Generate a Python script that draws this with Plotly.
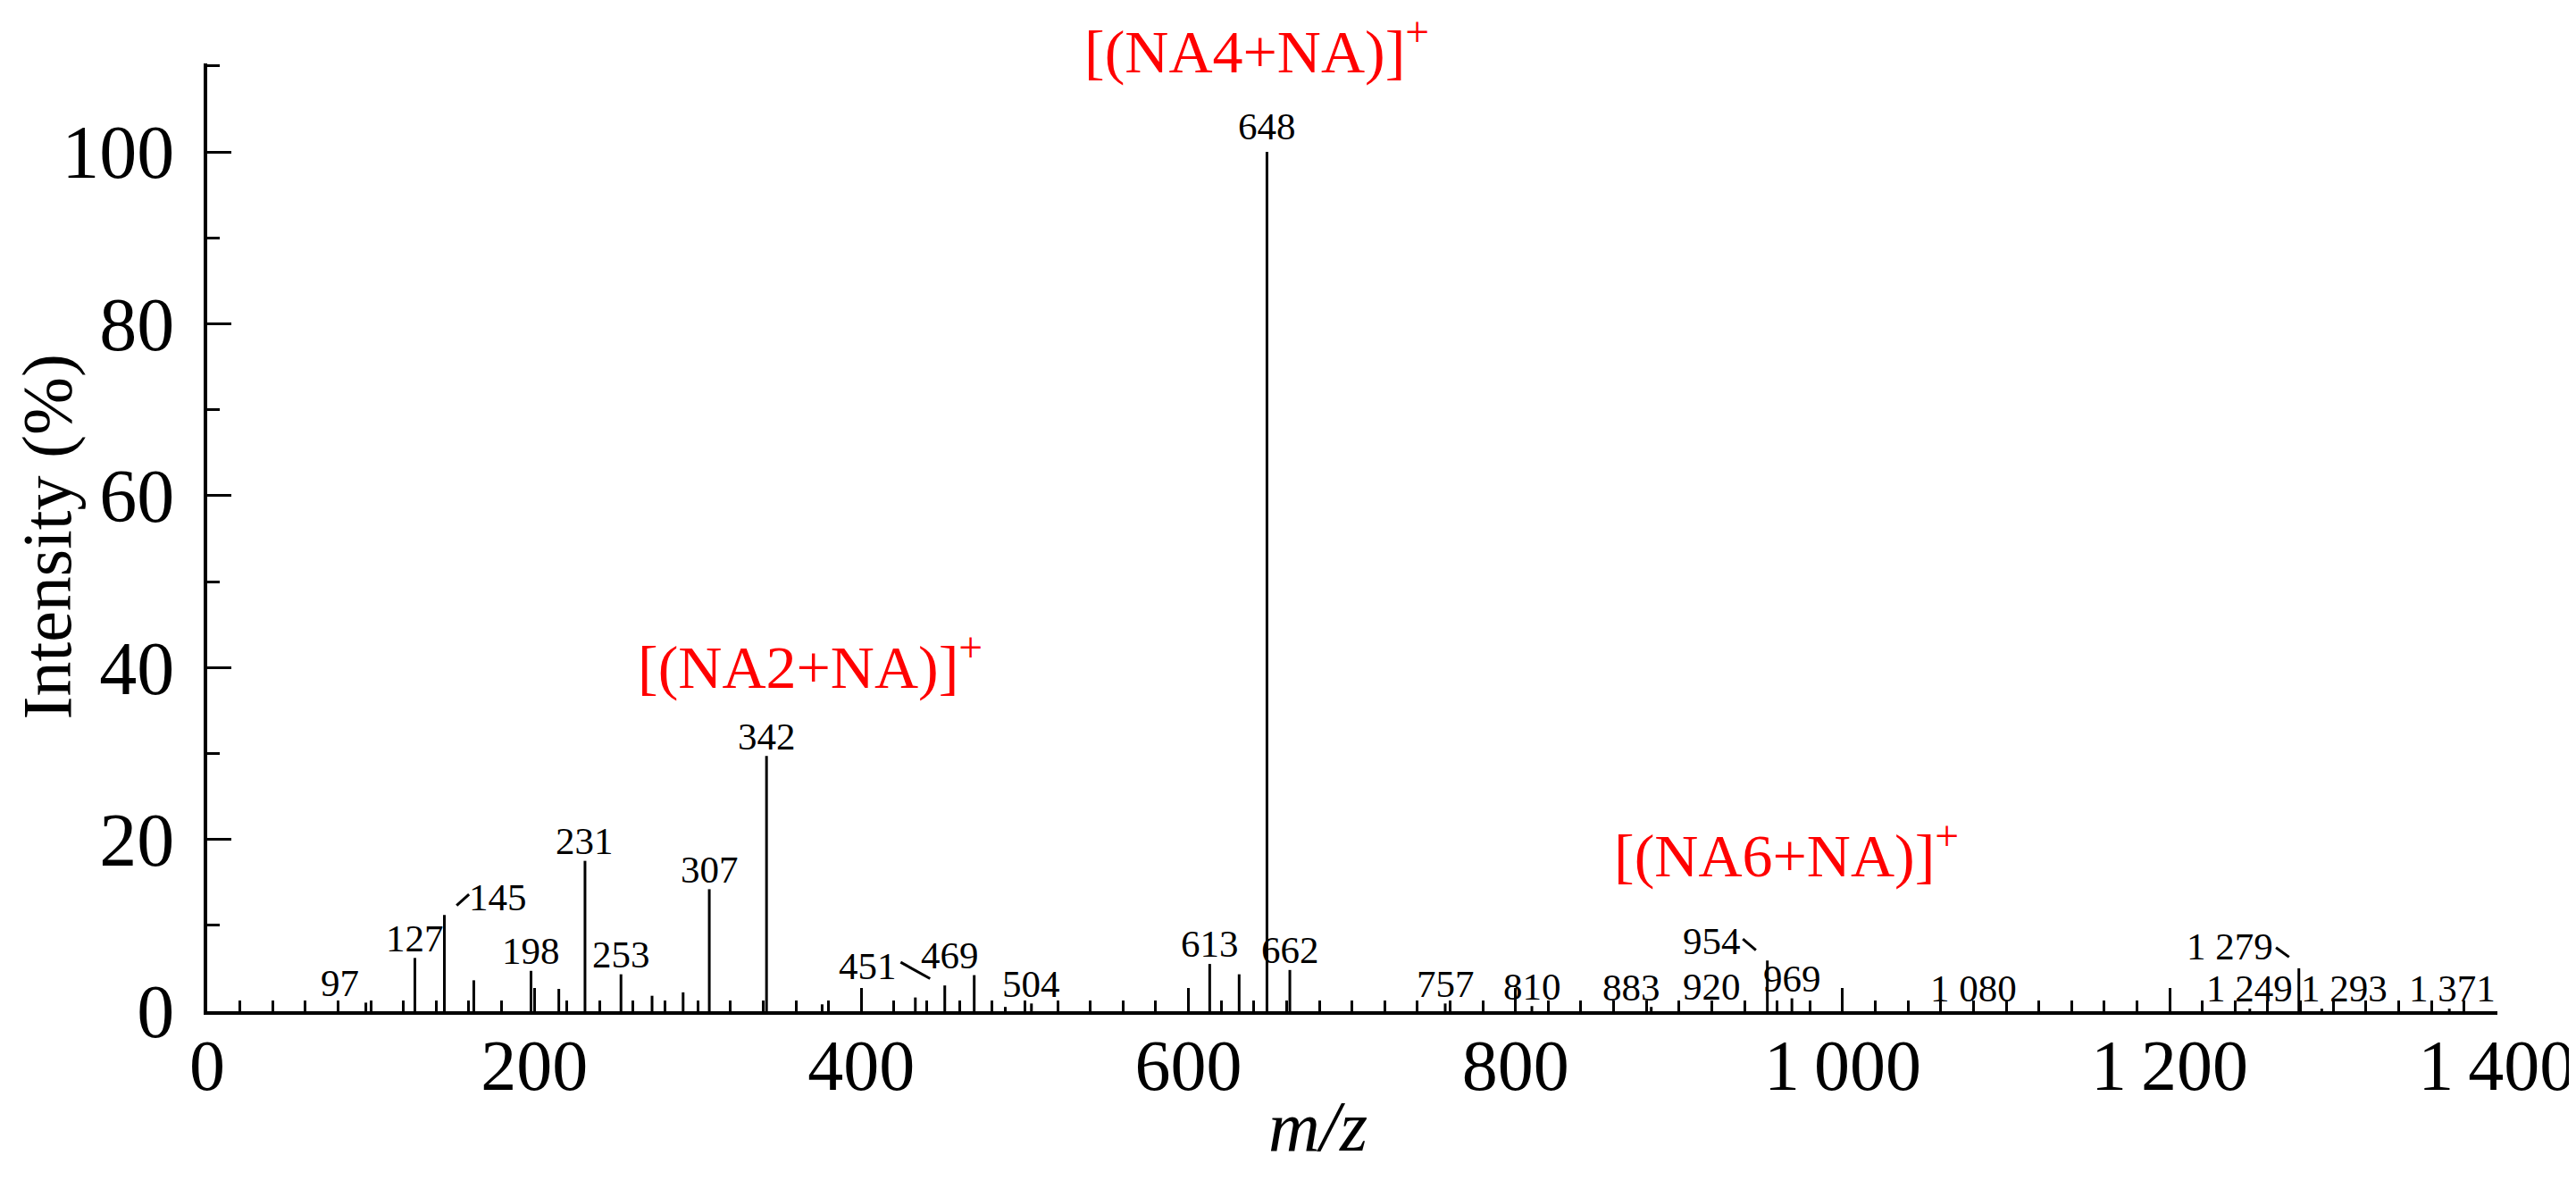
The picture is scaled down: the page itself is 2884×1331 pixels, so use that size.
import plotly.graph_objects as go

# Peak list (m/z, relative intensity %)
mz = [97, 127, 145, 163, 198, 215, 231, 253, 272, 291, 307, 342, 376, 433, 451, 469, 488, 504,
      613, 631, 648, 662, 757, 810, 883, 920, 954, 969, 1080, 1249, 1279, 1293, 1371]
intensity = [1.0, 6.2, 11.2, 3.6, 4.7, 2.6, 17.5, 4.3, 1.8, 2.2, 14.2, 29.7, 0.8, 1.6, 3.0, 4.2, 0.5, 0.9,
             5.5, 4.3, 100, 4.8, 0.9, 0.6, 0.5, 0.6, 5.9, 1.5, 0.3, 0.3, 5.0, 0.3, 0.3]
peak_labels = ["97", "127", "145", "", "198", "", "231", "253", "", "", "307", "342", "", "", "451", "469", "", "504",
               "613", "", "648", "662", "757", "810", "883", "920", "954", "969",
               "1 080", "1 249", "1 279", "1 293", "1 371"]

ion_names = ["[(NA2+NA)]<sup>+</sup>", "[(NA4+NA)]<sup>+</sup>", "[(NA6+NA)]<sup>+</sup>"]

x_ticks = [0, 200, 400, 600, 800, 1000, 1200, 1400]
y_ticks = [0, 20, 40, 60, 80, 100]

FONT = "Liberation Serif, Times New Roman, serif"

# label placement tweaks (dx in m/z, dy in %) for crowded peaks
label_shift = {97: (-16, 0), 145: (33, -0.2), 451: (-47, 0), 469: (-15, 0), 648: (0, 0.7),
               883: (-12, 0), 954: (-34, 0), 1279: (-42, 0.2), 1293: (14, 0), 1371: (2, 0)}
# leader lines from shifted labels to their peaks
leaders = {145: (152.5, 12.3, 160.1, 13.6), 451: (424, 5.7, 442, 3.8),
           954: (939, 8.4, 947, 7.1), 1279: (1265, 7.4, 1273, 6.3)}
# where the red ion names sit (left edge x, middle y); None -> just above the frame
ion_pos = [(262, 40.5), (535, None), (859, 18.6)]

# stick spectrum as one line trace
xs, ys = [], []
for m, i in zip(mz, intensity):
    xs += [m, m, None]
    ys += [0, i, None]

fig = go.Figure(go.Scatter(x=xs, y=ys, mode="lines", line=dict(color="black", width=3),
                           hoverinfo="skip", showlegend=False))

annotations = []
for m, i, lab in zip(mz, intensity, peak_labels):
    if not lab:
        continue
    dx, dy = label_shift.get(m, (0, 0))
    annotations.append(dict(x=m + dx, y=i + 2.3 + dy, text=lab, showarrow=False,
                            xanchor="center", yanchor="middle",
                            font=dict(family=FONT, size=43, color="black")))

for name, (px, py) in zip(ion_names, ion_pos):
    ann = dict(x=px, text=name, showarrow=False, xanchor="left", yanchor="middle",
               font=dict(family=FONT, size=68, color="#ff0000"))
    if py is None:
        ann.update(yref="paper", y=1, yshift=18)
    else:
        ann.update(y=py)
    annotations.append(ann)

annotations.append(dict(xref="paper", yref="paper", x=0, y=0.5, xshift=-180, text="Intensity (%)",
                        textangle=-90, showarrow=False, xanchor="center", yanchor="middle",
                        font=dict(family=FONT, size=78, color="black")))
annotations.append(dict(xref="x", yref="paper", x=679, y=0, yshift=-129, text="<i>m/z</i>",
                        showarrow=False, xanchor="center", yanchor="middle",
                        font=dict(family=FONT, size=80, color="black")))

shapes = [dict(type="line", xref="x", yref="y", x0=a, y0=b, x1=c, y1=d,
               line=dict(color="black", width=3)) for a, b, c, d in leaders.values()]

fig.update_layout(
    width=2884, height=1331,
    margin=dict(l=224, r=96, t=63, b=207),
    paper_bgcolor="white", plot_bgcolor="white",
    separators=".\u2009",
    annotations=annotations, shapes=shapes,
    showlegend=False,
)
fig.update_xaxes(range=[0, 1400.4], tickvals=x_ticks, separatethousands=True, automargin=False,
                 showline=True, linewidth=4, linecolor="black", showgrid=False, zeroline=False,
                 ticks="inside", ticklen=26, tickwidth=3, tickcolor="black",
                 minor=dict(ticks="inside", ticklen=12, tickwidth=3, tickcolor="black", dtick=20, tick0=0),
                 ticklabelstandoff=-12, ticklabeloverflow="allow",
                 tickfont=dict(family=FONT, size=80, color="black"))
fig.update_yaxes(range=[0, 110.3], tickvals=y_ticks, automargin=False,
                 showline=True, linewidth=4, linecolor="black", showgrid=False, zeroline=False,
                 ticks="inside", ticklen=27, tickwidth=3, tickcolor="black",
                 minor=dict(ticks="inside", ticklen=14, tickwidth=3, tickcolor="black", dtick=10, tick0=0),
                 ticklabelstandoff=16,
                 tickfont=dict(family=FONT, size=84, color="black"))

fig.write_html("out.html")
